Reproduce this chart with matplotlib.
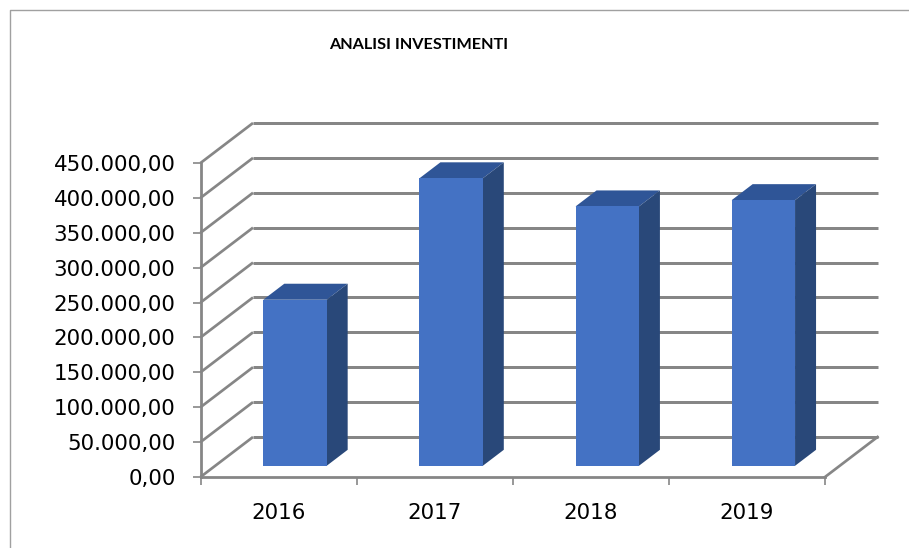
import matplotlib
matplotlib.use("Agg")
import matplotlib.pyplot as plt
from matplotlib.patches import Polygon
from matplotlib.lines import Line2D

years = ["2016", "2017", "2018", "2019"]
investimenti = [238000, 412000, 371700, 380700]
y_ticks = [0, 50000, 100000, 150000, 200000, 250000, 300000, 350000, 400000, 450000]
y_labels = ["0,00", "50.000,00", "100.000,00", "150.000,00", "200.000,00",
            "250.000,00", "300.000,00", "350.000,00", "400.000,00", "450.000,00"]
title = "ANALISI INVESTIMENTI"

W, H = 909, 548
GRID = "#868686"
FRONT, TOP, SIDE = "#4472C4", "#2F5597", "#294879"
FONT = "DejaVu Sans"

fig = plt.figure(figsize=(W / 100, H / 100), dpi=100)
L, R, T, B = 200.5, 825.0, 163.0, 477.0
ax = fig.add_axes([L / W, 1 - B / H, (R - L) / W, (B - T) / H])
ax.set_xlim(0, 4)
ax.set_ylim(0, 450000)
ax.patch.set_visible(False)

# oblique projection: depth d in 0..1 shifts x and y in data units
DX = 52.5 / ((R - L) / 4)
DY = 40.0 / ((B - T) / 450000)


def proj(x, y, d):
    return (x + d * DX, y + d * DY)


LW = 3.0 * 0.72
for v in y_ticks:
    ax.add_line(Line2D(*zip(proj(0, v, 0), proj(0, v, 1)), color=GRID, lw=LW * 0.9,
                       clip_on=False, zorder=1, solid_capstyle="butt"))
    ax.add_line(Line2D(*zip(proj(0, v, 1), proj(4, v, 1)), color=GRID, lw=LW,
                       clip_on=False, zorder=1, solid_capstyle="butt"))
ax.add_line(Line2D(*zip(proj(4, 0, 0), proj(4, 0, 1)), color=GRID, lw=LW * 0.9,
                   clip_on=False, zorder=1))

D0, D1 = 0.28, 0.68
BW = 0.406
for i, v in enumerate(investimenti):
    x0, x1 = i + 0.511 - BW / 2, i + 0.511 + BW / 2
    base = 0
    ax.add_patch(Polygon([proj(x0, v, D0), proj(x1, v, D0), proj(x1, v, D1), proj(x0, v, D1)],
                         closed=True, fc=TOP, ec="none", clip_on=False, zorder=3))
    ax.add_patch(Polygon([proj(x1, base, D0), proj(x1, base, D1), proj(x1, v, D1), proj(x1, v, D0)],
                         closed=True, fc=SIDE, ec="none", clip_on=False, zorder=3))
    ax.add_patch(Polygon([proj(x0, base, D0), proj(x1, base, D0), proj(x1, v, D0), proj(x0, v, D0)],
                         closed=True, fc=FRONT, ec="none", clip_on=False, zorder=4))

for s in ["top", "right"]:
    ax.spines[s].set_visible(False)
for s in ["left", "bottom"]:
    ax.spines[s].set_color(GRID)
    ax.spines[s].set_linewidth(2.0)
    ax.spines[s].set_zorder(2)

ax.set_yticks(y_ticks)
ax.set_yticklabels(y_labels, fontfamily=FONT, fontsize=15.4, color="black")
ax.set_xticks([0, 1, 2, 3, 4])
ax.set_xticklabels([])
ax.set_xticks([0.5, 1.5, 2.5, 3.5], minor=True)
ax.set_xticklabels(years, minor=True, fontfamily=FONT, fontsize=15.4, color="black")
ax.tick_params(axis="y", length=6, width=1.2, color=GRID, pad=12)
ax.tick_params(axis="x", which="major", length=6, width=1.2, color=GRID)
ax.tick_params(axis="x", which="minor", length=0, pad=18.5)

fig.text(418.5 / W, 1 - 45 / H, title, ha="center", va="center",
         fontfamily="Lato", fontweight="bold", fontsize=11.7, color="black")

# outer chart frame
fig.add_artist(Line2D([9.5 / W, 9.5 / W, 1], [0, 1 - 9.5 / H, 1 - 9.5 / H],
                      transform=fig.transFigure, color="#A0A0A0", lw=1.0))

fig.savefig("out.png", dpi=100)
